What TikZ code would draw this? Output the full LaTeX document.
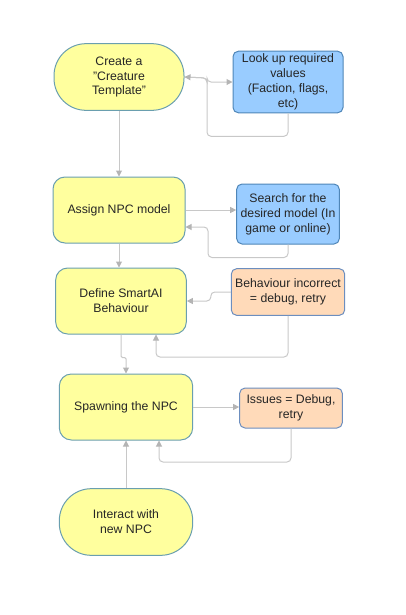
\documentclass[tikz,border=0pt]{standalone}
\usepackage{fontspec}
\setmainfont{Liberation Sans}
\usetikzlibrary{arrows.meta,positioning}

\definecolor{stepyellow}{HTML}{FFFF9E}
\definecolor{stepedge}{HTML}{6A9FAF}
\definecolor{infoblue}{HTML}{99CCFF}
\definecolor{infoedge}{HTML}{4F86B8}
\definecolor{fixorange}{HTML}{FFDAB9}
\definecolor{fixedge}{HTML}{6C8EBF}
\definecolor{linkgrey}{HTML}{C8C8C8}
\definecolor{tipgrey}{HTML}{B4B4B4}

\tikzset{
  base/.style={draw, align=center, line width=0.75pt, inner sep=2pt,
    font=\fontsize{9.2pt}{11.2pt}\selectfont, text=black!85},
  terminal/.style={base, fill=stepyellow, draw=stepedge, rounded corners=24pt,
    minimum width=97.5pt, minimum height=50pt},
  process/.style={base, fill=stepyellow, draw=stepedge, rounded corners=9pt,
    minimum width=99pt, minimum height=49.5pt},
  lookupbox/.style={base, fill=infoblue, draw=infoedge, rounded corners=4pt},
  fixbox/.style={base, fill=fixorange, draw=fixedge, rounded corners=4pt},
  link/.style={draw=linkgrey, line width=0.75pt, rounded corners=3pt,
    -{Triangle[length=4.5pt, width=4.5pt, fill=tipgrey, color=tipgrey]}}
}

\begin{document}
\begin{tikzpicture}[x=0.75pt, y=-0.75pt]
        \useasboundingbox (0,0) rectangle (405,615);
        % main steps
        \node[terminal] (create) at (119,77) {Create a\\"Creature\\Template"};
        \node[process] (assign) at (119,210) {Assign NPC model};
        \node[process, minimum width=98pt] (define) at (121,301) {Define SmartAI\\Behaviour};
        \node[process, minimum width=100pt] (spawn) at (126,407) {Spawning the NPC};
        \node[terminal, minimum width=100pt] (interact) at (126,522) {Interact with\\new NPC};
        % side boxes
        \node[lookupbox, minimum width=82.5pt, minimum height=46pt] (lookup) at (288,82) {Look up required\\values\\(Faction, flags,\\etc)};
        \node[lookupbox, minimum width=77pt, minimum height=45pt] (search) at (288,214) {Search for the\\desired model (In\\game or online)};
        \node[fixbox, minimum width=85pt, minimum height=35pt] (incorrect) at (288,292) {Behaviour incorrect\\= debug, retry};
        \node[fixbox, minimum width=77pt, minimum height=30pt] (issues) at (291,408) {Issues = Debug,\\retry};
        % turning points
        \coordinate (j1) at (207,78);
        \coordinate (j2) at (208,227);
        \coordinate (j3) at (156,357);
        \coordinate (j4) at (159,462);
        % connectors
        \draw[link] (create.south) -- (assign.north);
        \draw[link] (assign.south) -- (assign.south |- define.north);
        \draw[link, rounded corners=1pt] (define.south) -- ++(0,23) -| (spawn.north);
        \draw[link] (interact.north) -- (spawn.south);
        \draw[link] (create.east) -- (j1) |- (lookup.west);
        \draw[link] (lookup.south) -- ++(0,23) -| (j1) -- (create.east);
        \draw[link] (assign.east) -- (assign.east -| search.west);
        \draw[link] (search.south) -- ++(0,13) -| (j2) -- (j2 -| assign.east);
        \draw[link] (incorrect.west) -- ++(-20,0) |- (define.east);
        \draw[link] (incorrect.south) |- (j3) -- (j3 |- define.south);
        \draw[link] (spawn.east) -- (spawn.east -| issues.west);
        \draw[link] (issues.south) |- (j4) -- (j4 |- spawn.south);
\end{tikzpicture}
\end{document}
